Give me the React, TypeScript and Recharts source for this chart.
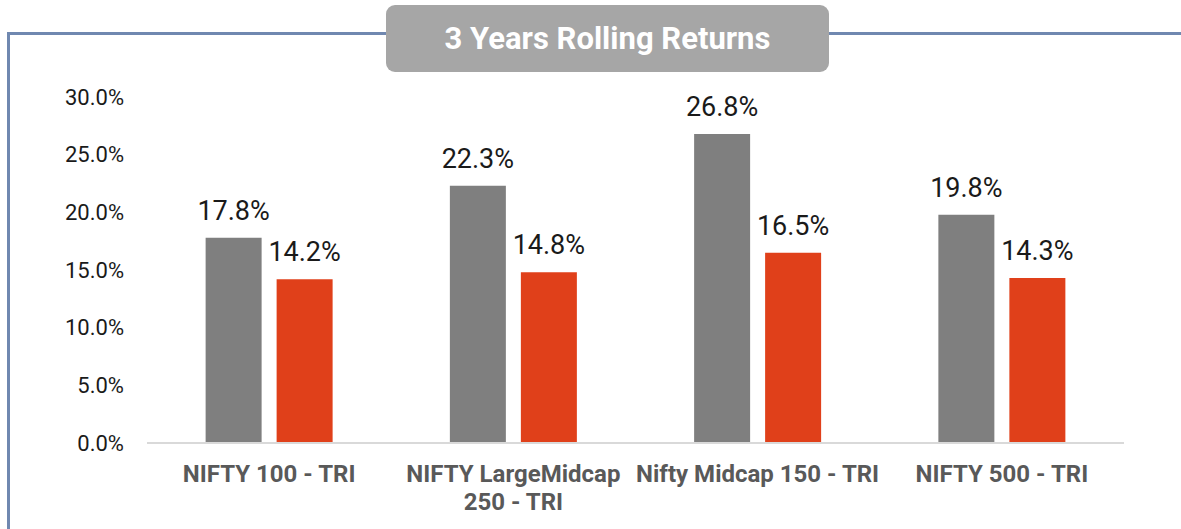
import { Bar, BarChart, LabelList, XAxis, YAxis } from "recharts";

const categories = [
  "NIFTY 100 - TRI",
  "NIFTY LargeMidcap 250 - TRI",
  "Nifty Midcap 150 - TRI",
  "NIFTY 500 - TRI",
];
const seriesA = [17.8, 22.3, 26.8, 19.8];
const seriesB = [14.2, 14.8, 16.5, 14.3];
const yTicks = [0, 5, 10, 15, 20, 25, 30];

const data = categories.map((name, i) => ({ name, a: seriesA[i], b: seriesB[i] }));

const pct = (v: number) => `${Number(v).toFixed(1)}%`;

const tickFont = "700 24px Roboto";
let ctx: CanvasRenderingContext2D | null = null;
function measure(s: string) {
  if (!ctx) ctx = document.createElement("canvas").getContext("2d");
  if (!ctx) return s.length * 12;
  ctx.font = tickFont;
  return ctx.measureText(s).width;
}

// greedy word wrap inside the category band
function wrap(text: string, maxWidth: number) {
  const lines: string[] = [];
  let cur = "";
  for (const w of text.split(" ")) {
    const next = cur ? `${cur} ${w}` : w;
    if (cur && measure(next) > maxWidth) {
      lines.push(cur);
      cur = w;
    } else {
      cur = next;
    }
  }
  if (cur) lines.push(cur);
  return lines;
}

function CategoryTick(props: any) {
  const { x, y, payload } = props;
  const lines = wrap(String(payload.value), 248);
  return (
    <text
      x={x}
      y={y + 31}
      textAnchor="middle"
      fill="#595959"
      style={{ fontFamily: "Roboto", fontSize: 24, fontWeight: 700 }}
    >
      {lines.map((l, i) => (
        <tspan key={i} x={x} dy={i === 0 ? 0 : 28}>
          {l}
        </tspan>
      ))}
    </text>
  );
}

const labelStyle = { fill: "#1a1a1a", fontSize: 27, fontFamily: "Roboto" };

export default function App() {
  return (
    <div style={{ position: "relative", width: 1181, height: 529, background: "#fff", overflow: "hidden" }}>
      <style>{`body{margin:0}`}</style>
      <div
        style={{
          position: "absolute",
          left: 7,
          top: 32,
          width: 1200,
          height: 494,
          borderLeft: "3px solid #7088b0",
          borderTop: "3px solid #7088b0",
          borderBottom: "3px solid #7088b0",
        }}
      />
      <div style={{ position: "absolute", left: 0, top: 0 }}>
        <BarChart
          width={1181}
          height={529}
          data={data}
          margin={{ top: 97, right: 57, bottom: 0, left: 0 }}
          barCategoryGap="24%"
          barGap={15}
        >
          <XAxis
            dataKey="name"
            height={86}
            interval={0}
            tickLine={false}
            axisLine={{ stroke: "#d9d9d9", strokeWidth: 2 }}
            tick={<CategoryTick />}
          />
          <YAxis
            width={147}
            domain={[0, 30]}
            ticks={yTicks}
            tickFormatter={pct}
            axisLine={false}
            tickLine={false}
            tickSize={0}
            tickMargin={23}
            tick={{ fill: "#1a1a1a", fontSize: 22, fontFamily: "Roboto" }}
          />
          <Bar dataKey="a" fill="#7f7f7f" isAnimationActive={false}>
            <LabelList dataKey="a" position="top" offset={18} formatter={(v: any) => pct(v)} style={labelStyle} />
          </Bar>
          <Bar dataKey="b" fill="#e0401a" isAnimationActive={false}>
            <LabelList dataKey="b" position="top" offset={18} formatter={(v: any) => pct(v)} style={labelStyle} />
          </Bar>
        </BarChart>
      </div>
      <div
        style={{
          position: "absolute",
          left: 386,
          top: 5,
          width: 443,
          height: 67,
          background: "#a6a6a6",
          borderRadius: 9,
          color: "#fff",
          fontFamily: "Roboto",
          fontWeight: 700,
          fontSize: 31,
          display: "flex",
          alignItems: "center",
          justifyContent: "center",
        }}
      >
        3 Years Rolling Returns
      </div>
    </div>
  );
}
